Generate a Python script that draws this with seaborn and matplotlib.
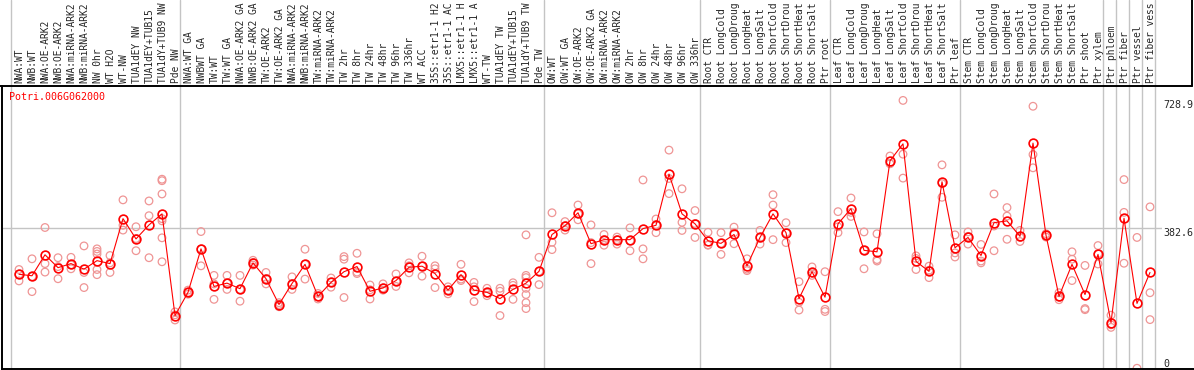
import numpy as np
import pandas as pd
import matplotlib
matplotlib.use("Agg")
import matplotlib.pyplot as plt
import matplotlib.transforms as mtransforms
from matplotlib.lines import Line2D
import seaborn as sns

gene = "Potri.006G062000"

categories = [
    "NWA:WT", "NWB:WT", "NWA:OE-ARK2", "NWB:OE-ARK2", "NWA:miRNA-ARK2", "NWB:miRNA-ARK2",
    "NW 0hr", "WT H2O", "WT-NW", "TUA1dEY NW", "TUA1dEY+TUB15", "TUA1dY+TUB9 NW", "Pde NW",
    "NWA:WT GA", "NWBWT GA", "TW:WT", "TW:WT GA", "NWA:OE-ARK2 GA", "NWB:OE-ARK2 GA",
    "TW:OE-ARK2", "TW:OE-ARK2 GA", "NWA:miRNA-ARK2", "NWB:miRNA-ARK2", "TW:miRNA-ARK2",
    "TW:miRNA-ARK2", "TW 2hr", "TW 8hr", "TW 24hr", "TW 48hr", "TW 96hr", "TW 336hr",
    "WT ACC", "35S::etr1-1 H2", "35S::etr1-1 AC", "LMX5::etr1-1 H", "LMX5::etr1-1 A",
    "WT-TW", "TUA1dEY TW", "TUA1dEY+TUB15", "TUA1dY+TUB9 TW", "Pde TW",
    "OW:WT", "OW:WT GA", "OW:OE-ARK2", "OW:OE-ARK2 GA", "OW:miRNA-ARK2", "OW:miRNA-ARK2",
    "OW 2hr", "OW 8hr", "OW 24hr", "OW 48hr", "OW 96hr", "OW 336hr",
    "Root CTR", "Root LongCold", "Root LongDroug", "Root LongHeat", "Root LongSalt",
    "Root ShortCold", "Root ShortDrou", "Root ShortHeat", "Root ShortSalt", "Ptr root",
    "Leaf CTR", "Leaf LongCold", "Leaf LongDroug", "Leaf LongHeat", "Leaf LongSalt",
    "Leaf ShortCold", "Leaf ShortDrou", "Leaf ShortHeat", "Leaf ShortSalt", "Ptr leaf",
    "Stem CTR", "Stem LongCold", "Stem LongDroug", "Stem LongHeat", "Stem LongSalt",
    "Stem ShortCold", "Stem ShortDrou", "Stem ShortHeat", "Stem ShortSalt", "Ptr shoot",
    "Ptr xylem", "Ptr phloem", "Ptr fiber", "Ptr vessel", "Ptr fiber vess",
]

means = [
    257, 253, 310, 275, 286, 271, 294, 286, 408, 353, 391, 421, 145,
    208, 326, 224, 233, 218, 288, 245, 175, 232, 284, 197, 235, 264, 278, 211, 220,
    240, 276, 279, 259, 214, 256, 214, 208, 191, 216, 233, 265,
    365, 389, 424, 340, 351, 351, 351, 381, 390, 529, 421, 394,
    348, 341, 365, 280, 357, 421, 370, 191, 264, 195,
    394, 435, 322, 318, 565, 611, 292, 265, 508, 329,
    357, 308, 397, 402, 360, 613, 363, 197, 284, 202,
    311, 126, 409, 178, 262,
]

replicates = [
    [270, 257, 239], [299, 251, 210], [384, 286, 263], [302, 278, 245], [303, 283, 272],
    [334, 262, 221], [326, 319, 312, 270, 256], [308, 288, 262], [459, 390, 377],
    [386, 354, 321], [456, 416, 302], [515, 511, 475, 408, 402, 356, 291], [155, 147, 133],
    [214, 208, 203], [373, 326, 280], [254, 231, 189], [254, 233, 216], [254, 216, 184],
    [295, 289, 282], [262, 245, 231], [180, 175, 169], [250, 232, 216], [325, 284, 244],
    [205, 196, 190], [247, 235, 222], [305, 298, 194], [314, 263, 259], [228, 215, 190],
    [231, 220, 214], [258, 238, 224], [288, 280, 261], [306, 279, 252], [280, 272, 221],
    [223, 214, 204], [284, 244, 240], [235, 223, 183], [219, 206, 199], [219, 211, 145],
    [234, 227, 189], [364, 254, 248, 219, 202, 180, 164], [303, 265, 229],
    [424, 344, 324], [400, 389, 377], [445, 421, 405], [391, 343, 286], [365, 351, 336],
    [358, 351, 339], [383, 348, 321], [513, 326, 299], [407, 392, 370], [594, 517, 476],
    [489, 398, 376], [430, 395, 357],
    [371, 336, 337], [370, 341, 311], [385, 370, 340], [299, 271, 267], [376, 356, 339],
    [473, 445, 351], [397, 370, 343], [237, 181, 160], [277, 261, 254], [264, 162, 156],
    [427, 386, 370], [464, 425, 414], [372, 322, 272], [367, 297, 293], [578, 558, 557],
    [728.9, 583, 518], [307, 300, 270], [279, 268, 248], [554, 503, 466], [364, 315, 304],
    [372, 360, 339], [338, 293, 288], [475, 388, 321], [438, 415, 352], [376, 357, 346],
    [713, 582, 546], [367, 363, 358], [207, 195, 188], [318, 298, 240], [281, 164, 161],
    [335, 313, 285], [146, 120, 113], [514, 425, 287], [357, 2], [440, 207, 134],
]

group_starts = [0, 13, 41, 53, 63, 73, 84, 85, 86, 87, 88]
ref_value = 382.6
max_value = 728.9
axis_labels = ["728.9", "382.6", "0"]

sns.set_style("white")
plt.rcParams["font.family"] = ["DejaVu Sans Mono"]

W, H = 1194, 370
fig = plt.figure(figsize=(W / 100, H / 100), dpi=100)
L, R, T, B = 1.5, 1162, 86, 369
ax = fig.add_axes([L / W, (H - B) / H, (R - L) / W, (B - T) / H])

x0, step = 19.0, 13.0
ax.set_xlim((L - x0) / step, (R - x0) / step)
ax.set_ylim(0, max_value * (B - T) / (B - 100.4))

idx = np.arange(len(categories))
rep_df = pd.DataFrame(
    [(i, v) for i, vals in enumerate(replicates) for v in vals], columns=["idx", "value"]
)
mean_df = pd.DataFrame({"idx": idx, "value": means})

# grid lines
for g in group_starts:
    ax.axvline(g - 0.6, ymin=0, ymax=1 + T / (B - T), color="#c4c4c4", lw=1.0,
               clip_on=False, zorder=1)
ax.axhline(ref_value, color="#c4c4c4", lw=1.0, zorder=1)

sns.scatterplot(data=rep_df, x="idx", y="value", ax=ax, marker="o", s=30,
                facecolors="none", edgecolor="#ef9595", linewidth=0.9,
                legend=False, zorder=2)
sns.lineplot(data=mean_df, x="idx", y="value", ax=ax, color="red", lw=0.8,
             marker="o", markersize=6.3, markerfacecolor="none",
             markeredgecolor="red", markeredgewidth=1.2, zorder=3)

ax.set_xticks([])
ax.set_yticks([])
ax.set_xlabel("")
ax.set_ylabel("")
for s in ["top", "right"]:
    ax.spines[s].set_visible(False)
for s in ["left", "bottom"]:
    ax.spines[s].set_color("black")
    ax.spines[s].set_linewidth(1.4)

# frame lines around label band
fig.add_artist(Line2D([0, 1192 / W], [1 - 85.5 / H] * 2, color="black", lw=1.4,
                      transform=fig.transFigure))
fig.add_artist(Line2D([1192 / W] * 2, [1 - 85.5 / H, 1], color="black", lw=1.4,
                      transform=fig.transFigure))
fig.add_artist(Line2D([R / W, 1], [(H - B) / H] * 2, color="black", lw=1.4,
                      transform=fig.transFigure))

# category labels
trans = mtransforms.blended_transform_factory(ax.transData, fig.transFigure)
for i, c in enumerate(categories):
    ax.text(i + 0.05, 1 - 83 / H, c, transform=trans, rotation=90, ha="center",
            va="bottom", fontsize=6.9, clip_on=False)

# right-side value labels
rtrans = mtransforms.blended_transform_factory(fig.transFigure, ax.transData)
for lab in axis_labels:
    v = float(lab)
    ax.text(1163 / W, v, lab, transform=rtrans, ha="left",
            va="top" if v > 0 else "bottom", fontsize=7.2, clip_on=False)

fig.text(9.5 / W, 1 - 97 / H, gene, color="red", ha="left", va="center", fontsize=7.2)

fig.savefig("out.png", dpi=100)
